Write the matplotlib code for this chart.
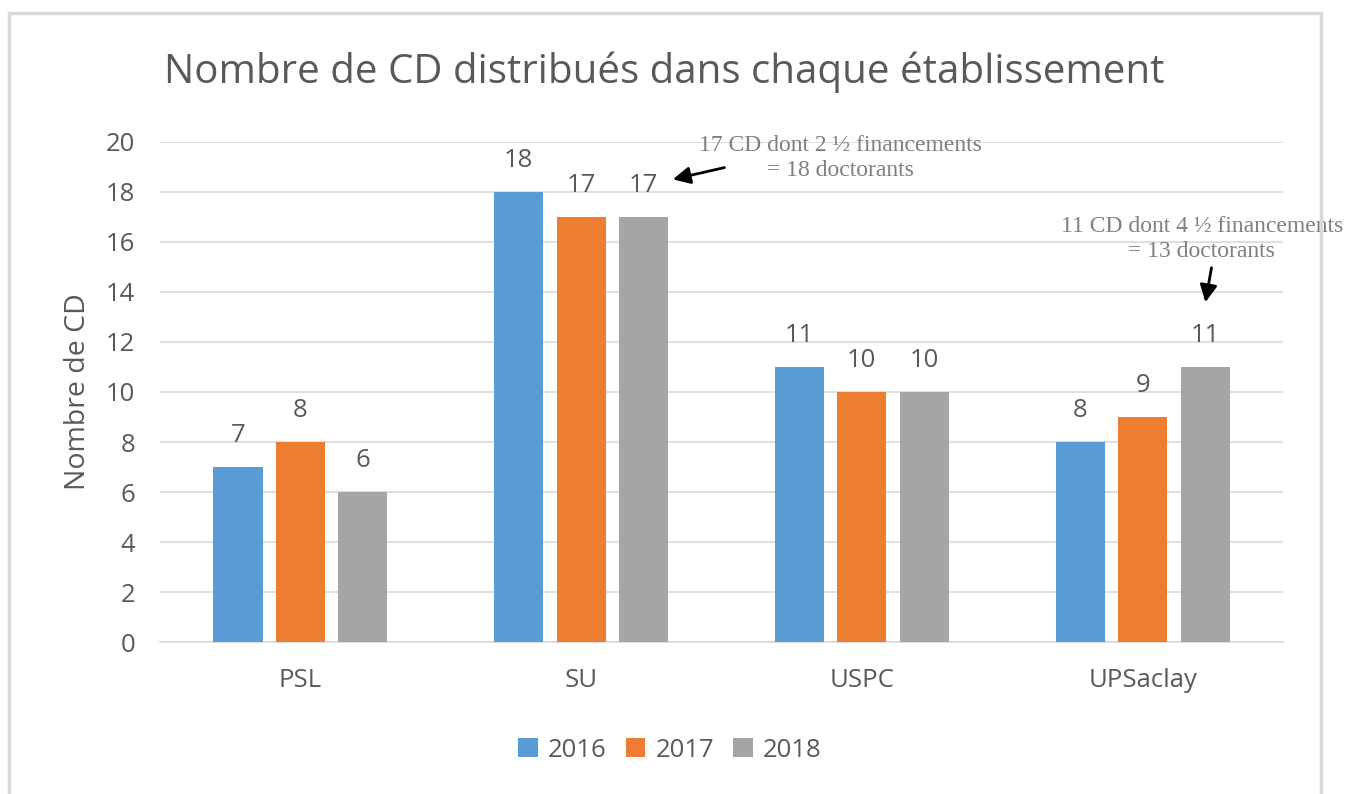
import matplotlib.pyplot as plt
import numpy as np
from matplotlib.patches import Rectangle

categories = ["PSL", "SU", "USPC", "UPSaclay"]
years = ["2016", "2017", "2018"]
values_2016 = [7, 18, 11, 8]
values_2017 = [8, 17, 10, 9]
values_2018 = [6, 17, 10, 11]
colors = ["#5b9bd5", "#ed7d31", "#a5a5a5"]

plt.rcParams["font.family"] = ["Open Sans", "DejaVu Sans"]
text_color = "#595959"

fig = plt.figure(figsize=(13.62, 7.94), dpi=100)
ax = fig.add_axes([0.1175, 0.1914, 0.8245, 0.6298])

x = np.arange(len(categories))
width = 0.175
step = 0.2225
series = [values_2016, values_2017, values_2018]
for i, (vals, year, c) in enumerate(zip(series, years, colors)):
    bars = ax.bar(x + (i - 1) * step, vals, width, color=c, label=year, zorder=3)
    ax.bar_label(bars, padding=14, fontsize=18.5, color=text_color)

ax.set_xlim(-0.5, 3.5)
ax.set_ylim(0, 20)
ax.set_yticks(range(0, 21, 2))
ax.set_xticks(x)
ax.set_xticklabels(categories)
ax.tick_params(axis="both", length=0, labelsize=18.5, colors=text_color)
ax.tick_params(axis="y", pad=18)
ax.tick_params(axis="x", pad=19)
ax.grid(axis="y", color="#d9d9d9", linewidth=1.2, zorder=0)
for s in ["top", "right", "left"]:
    ax.spines[s].set_visible(False)
ax.spines["bottom"].set_color("#d9d9d9")
ax.spines["bottom"].set_linewidth(1.2)
ax.set_ylabel("Nombre de CD", fontsize=20.5, color=text_color, labelpad=10)

fig.text(0.488, 0.909, "Nombre de CD distribués dans chaque établissement",
         ha="center", va="center", fontsize=29, color=text_color)

note_font = dict(family="Liberation Serif", fontsize=17, color="#7f7f7f",
                 ha="center", va="center", linespacing=1.25)
ax.text(1.922, 19.36, "17 CD dont 2 ½ financements\n= 18 doctorants", **note_font)
ax.text(3.211, 16.12, "11 CD dont 4 ½ financements\n= 13 doctorants", **note_font,
        clip_on=False)
arrow = dict(arrowstyle="-|>", color="black", lw=2, mutation_scale=26)
ax.annotate("", xy=(1.317, 18.48), xytext=(1.52, 19.0), arrowprops=arrow)
ax.annotate("", xy=(3.222, 13.48), xytext=(3.247, 15.08), arrowprops=arrow)

leg = fig.legend(loc="center", bbox_to_anchor=(0.492, 0.055), ncol=3, frameon=False,
                 fontsize=18.5, handlelength=0.75, handleheight=0.75, handletextpad=0.4,
                 columnspacing=0.75)
for t in leg.get_texts():
    t.set_color(text_color)

fig.patches.append(Rectangle((9 / 1362, -0.05), 1312 / 1362, 1.05 - 13 / 794,
                             transform=fig.transFigure, fill=False,
                             edgecolor="#d9d9d9", linewidth=2.5))

fig.savefig("out.png", dpi=100)
